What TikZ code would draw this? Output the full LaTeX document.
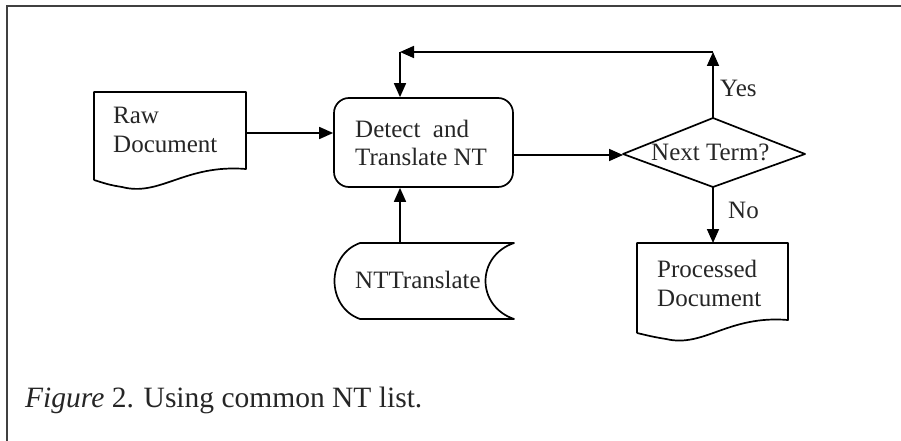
\documentclass[tikz,border=0pt]{standalone}
\usepackage{fontspec}
\setmainfont{Liberation Serif}
\usetikzlibrary{arrows.meta}
\tikzset{
  shp/.style={draw=black, line width=1.7pt, line join=round},
  arr/.style={draw=black, line width=1.7pt, -{Triangle[length=14pt,width=12pt]}},
  lbl/.style={anchor=base west, inner sep=0pt, font=\fontsize{25}{30}\selectfont, text=black!85},
  frame/.style={draw=black!75, line width=2pt}
}
\begin{document}
\begin{tikzpicture}[x=1pt,y=-1pt]
\useasboundingbox (0,0) rectangle (901,441);
% frame
\draw[frame] (7,441) -- (7,6) -- (901,6);
% Raw document
\draw[shp] (94,180) -- (94,92) -- (246,92) -- (246,169) .. controls (185,164) and (160,197) .. (122,187) .. controls (110,185) .. (94,180);
\coordinate (rawR) at (246,133);
\node[lbl] (raw1) at (113,123) {Raw};
\node[lbl] (raw2) at (113,152) {Document};
% Detect box
\node[shp, rounded corners=15pt, minimum width=179pt, minimum height=89pt, inner sep=0pt] (det) at (423.5,142.5) {};
\node[lbl] (det1) at (355,137) {Detect\ \ and};
\node[lbl] (det2) at (355,165) {Translate NT};
% Diamond
\coordinate (dl) at (623,154);
\coordinate (dt) at (713,118);
\coordinate (dr) at (805,154);
\coordinate (db) at (713,187);
\draw[shp] (dl) -- (dt) -- (dr) -- (db) -- cycle;
\node[lbl] (nt) at (651,160) {Next Term?};
% Processed document
\draw[shp] (637,333) -- (637,243) -- (788,243) -- (788,320) .. controls (728,315) and (704,348) .. (666,339) .. controls (654,337) .. (637,333);
\coordinate (procT) at (713,243);
\node[lbl] (p1) at (657,277) {Processed};
\node[lbl] (p2) at (657,306) {Document};
% Stored data
\draw[shp] (360,243) -- (514,243) .. controls (476,256) and (476,306) .. (514,319) -- (360,319) .. controls (326,307) and (326,255) .. (360,243) -- cycle;
\coordinate (stT) at (400,243);
\node[lbl] (st) at (355,288) {NTTranslate};
% connectors
\coordinate (c1) at (713,52);
\coordinate (c2) at (400,52);
\draw[arr] (rawR) -- (det.west |- rawR);
\draw[arr] (det.east |- 0,155) -- (dl |- 0,155);
\draw[arr] (dt) -- (c1);
\draw[arr] (c1) -- (c2);
\draw[arr] (c2) -- (det.north -| c2);
\draw[arr] (db) -- (procT);
\draw[arr] (stT) -- (det.south -| stT);
\node[lbl] (yes) at (720,97) {Yes};
\node[lbl] (no) at (728,218) {No};
% caption
\node[lbl, font=\fontsize{29.5}{35}\selectfont] (cap) at (25,407) {\textit{Figure} 2. Using common NT list.};
\end{tikzpicture}
\end{document}
